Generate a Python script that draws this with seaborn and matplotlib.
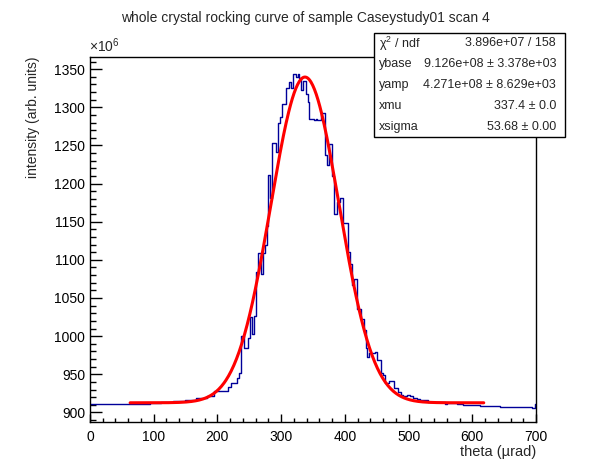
import numpy as np
import pandas as pd
import matplotlib
matplotlib.use("Agg")
import matplotlib.pyplot as plt
from matplotlib.patches import Rectangle
from matplotlib.ticker import MultipleLocator
import seaborn as sns

# ---------------- data ----------------
title = "whole crystal rocking curve of sample Caseystudy01 scan 4"
x_label = "theta (\u00b5rad)"
y_label = "intensity (arb. units)"

bin_edges = [0, 28.3, 31.4, 38.1, 40.3, 44.4, 94.2, 111.5, 130.8, 149.1, 166.4, 183.2,
             194.7, 207.2, 216.6, 220.6, 230.3, 233.9, 236.3, 241.0, 247.3, 250.4, 253.9,
             257.0, 260.6, 264.1, 267.7, 271.1, 274.7, 277.9, 279.8, 282.9, 285.7, 292.0,
             294.7, 298.8, 301.0, 307.7, 312.9, 315.6, 319.2, 323.4, 326.1, 328.6, 331.2,
             333.9, 339.1, 342.2, 344.3, 351.7, 354.0, 356.4, 358.4, 363.1, 369.4, 372.5,
             375.7, 379.4, 383.5, 387.8, 391.7, 396.7, 404.2, 407.4, 411.0, 414.5, 418.7,
             425.9, 429.4, 432.5, 435.3, 438.5, 447.4, 450.1, 456.4, 459.5, 463.1, 469.9,
             477.7, 484.0, 487.8, 491.9, 497.2, 502.4, 507.6, 512.9, 518.1, 531.1, 553.7,
             557.3, 560.9, 575.7, 586.0, 612.3, 643.7, 693.4, 698.6, 700.0]

# intensity in units of 1e6
intensity = [910.7, 911.6, 910.7, 911.6, 910.7, 911.6, 912.8, 913.5, 915.0, 916.8, 919.4,
             921.5, 928.0, 927.5, 933.0, 939.0, 945.6, 951.0, 1000.5, 984.5, 998.0, 1024.5,
             1003.0, 1026.0, 1084.0, 1109.5, 1081.5, 1109.5, 1119.0, 1145.0, 1211.0, 1181.0,
             1253.0, 1242.0, 1280.0, 1287.0, 1304.5, 1324.7, 1333.4, 1326.0, 1343.4, 1340.0,
             1343.4, 1338.0, 1323.0, 1335.0, 1318.0, 1307.0, 1285.0, 1284.0, 1285.0, 1283.5,
             1284.0, 1292.0, 1237.0, 1224.0, 1251.6, 1210.0, 1160.7, 1176.0, 1181.0, 1148.5,
             1110.4, 1095.2, 1066.7, 1075.5, 1036.0, 1022.0, 1008.0, 985.0, 972.0, 978.5,
             979.5, 969.0, 952.0, 948.7, 939.0, 941.0, 932.5, 927.0, 922.5, 921.2, 923.4,
             921.0, 919.4, 918.0, 915.9, 913.7, 913.0, 910.7, 912.4, 910.7, 909.3, 908.0,
             906.7, 905.4, 910.7]

# fit parameters (gaussian + constant), shown in the stats box
fit_ybase = 912.6      # 9.126e+08
fit_yamp = 427.1       # 4.271e+08
fit_xmu = 337.4
fit_xsigma = 53.68
fit_range = [63.0, 618.0]

stat_names = ["\u03c7$^{2}$ / ndf", "ybase", "yamp", "xmu", "xsigma"]
stat_values = ["3.896e+07 / 158", "9.126e+08 \u00b1 3.378e+03",
               "4.271e+08 \u00b1 8.629e+03", "337.4 \u00b1 0.0", "53.68 \u00b1 0.00"]

x_ticks = [0, 100, 200, 300, 400, 500, 600, 700]
y_ticks = [900, 950, 1000, 1050, 1100, 1150, 1200, 1250, 1300, 1350]

# ---------------- figure ----------------
sns.set_style("ticks")
plt.rcParams["font.family"] = ["Liberation Sans", "DejaVu Sans"]
plt.rcParams["mathtext.fontset"] = "custom"
plt.rcParams["mathtext.rm"] = "Liberation Sans"
plt.rcParams["mathtext.it"] = "Liberation Sans:italic"

W, H = 596, 472
fig = plt.figure(figsize=(W / 100, H / 100), dpi=100, facecolor="white")

def fx(px):
    return px / W

def fy(py):
    return 1 - py / H

ax_l, ax_r, ax_t, ax_b = 90, 536, 57, 422
ax = fig.add_axes([fx(ax_l), fy(ax_b), fx(ax_r) - fx(ax_l), (ax_b - ax_t) / H])

centers = [0.5 * (a + b) for a, b in zip(bin_edges[:-1], bin_edges[1:])]
df = pd.DataFrame({"theta": centers, "intensity": intensity})

sns.histplot(data=df, x="theta", weights="intensity", bins=list(bin_edges),
             element="step", fill=False, color="#000099", linewidth=1.0, ax=ax)

xf = np.linspace(fit_range[0], fit_range[1], 400)
yf = fit_ybase + fit_yamp * np.exp(-0.5 * ((xf - fit_xmu) / fit_xsigma) ** 2)
sns.lineplot(x=xf, y=yf, color="#ff0000", linewidth=2.2, ax=ax)

ax.set_xlim(0, 700)
ax.set_ylim(887.4, 1366)
ax.set_xticks(x_ticks)
ax.set_yticks(y_ticks)
ax.xaxis.set_minor_locator(MultipleLocator(20))
ax.yaxis.set_minor_locator(MultipleLocator(10))
ax.tick_params(axis="both", which="both", direction="in", top=False, right=False,
               width=1, color="black", labelsize=10, labelcolor="black")
ax.tick_params(axis="y", which="major", length=8.6, pad=3.5)
ax.tick_params(axis="y", which="minor", length=4.3)
ax.tick_params(axis="x", which="major", length=5.8, pad=5.5)
ax.tick_params(axis="x", which="minor", length=2.9)
for s in ax.spines.values():
    s.set_visible(True)
    s.set_linewidth(1.0)
    s.set_color("black")
ax.set_xlabel("")
ax.set_ylabel("")
ax.grid(False)

# axis titles (ROOT style: aligned at the axis ends)
fig.text(fx(536), fy(452), x_label, ha="right", va="center", fontsize=10.5)
fig.text(fx(33), fy(57), y_label, ha="center", va="top", rotation=90, fontsize=10)
fig.text(fx(89), fy(55), r"$\times$10$^{6}$", ha="left", va="bottom", fontsize=10)

# title
fig.text(fx(305), fy(18), title, ha="center", va="center", fontsize=10)

# stats box
bx0, bx1, by0, by1 = 374, 565, 33, 137
fig.patches.append(Rectangle((fx(bx0), fy(by1)), fx(bx1) - fx(bx0), (by1 - by0) / H,
                             transform=fig.transFigure, facecolor="white",
                             edgecolor="black", linewidth=1.0, zorder=5))
row_h = (by1 - by0) / len(stat_names)
for i, (n, v) in enumerate(zip(stat_names, stat_values)):
    yc = by0 + row_h * (i + 0.5)
    fig.text(fx(379), fy(yc), n, ha="left", va="center", fontsize=9, zorder=6)
    fig.text(fx(556), fy(yc), v, ha="right", va="center", fontsize=9, zorder=6)

fig.savefig("out.png", dpi=100, facecolor="white")
